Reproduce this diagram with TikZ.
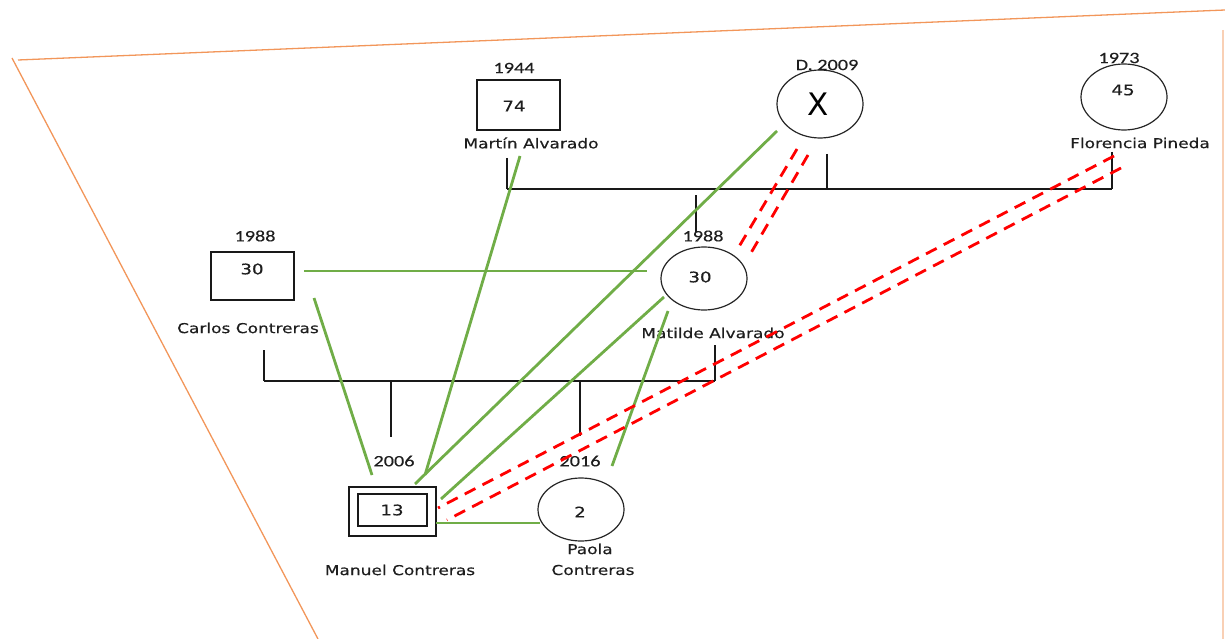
\documentclass[tikz,border=0pt]{standalone}
\usepackage{fontspec}
\usetikzlibrary{shapes.geometric}
\newfontfamily\nmfont[FakeStretch=1.25,FakeBold=0.35]{DejaVu Sans}
\newfontfamily\yrfont[FakeStretch=1.28,FakeBold=0.3]{Carlito}
\newfontfamily\bigxfont{DejaVu Sans}
\definecolor{orng}{RGB}{242,150,90}
\definecolor{grn}{RGB}{112,173,71}
\definecolor{txt}{RGB}{30,30,30}
\tikzset{
  nm/.style={inner sep=0pt, text=txt, font=\nmfont\fontsize{13.6}{15}\selectfont},
  yr/.style={inner sep=0pt, text=txt, font=\yrfont\fontsize{15.8}{17}\selectfont},
  age/.style={inner sep=0pt, text=txt, font=\nmfont\fontsize{14.6}{16}\selectfont},
  malebox/.style={draw=black!90, line width=1.3pt, rectangle, inner sep=0pt},
  femcirc/.style={draw=black!85, line width=1.2pt, ellipse, inner sep=0pt},
  kin/.style={black!90, line width=1.4pt},
  rel/.style={grn, line width=2.8pt},
  conflict/.style={red, line width=2.8pt, dash pattern=on 12pt off 8pt},
  frame/.style={orng, line width=1.3pt}
}
\begin{document}
\begin{tikzpicture}[x=1pt,y=-1pt]
\useasboundingbox (0,0) rectangle (1225,639);
% frame lines
\coordinate (fa) at (18,60);
\coordinate (fb) at (1225,10);
\coordinate (fc) at (12,58);
\coordinate (fd) at (318,639);
\coordinate (fe) at (1223,30);
\coordinate (ff) at (1223,639);
\draw[frame] (fa) -- (fb);
\draw[frame] (fc) -- (fd);
\draw[frame, opacity=0.45] (fe) -- (ff);

% Martin Alvarado
\node[malebox, minimum width=83pt, minimum height=50pt] (martin) at (518.5,105) {};
\node[age] (martinage) at (514,106) {74};
\node[yr] (martinyr) at (514,68) {1944};
\node[nm] (martinnm) at (531,143) {Martín Alvarado};

% deceased woman
\node[femcirc, minimum width=86pt, minimum height=68pt] (dec) at (820,104) {};
\node[inner sep=0pt, font=\bigxfont\fontsize{31}{32}\selectfont] (decx) at (818,104) {X};
\node[yr] (decyr) at (827,65) {D. 2009};

% Florencia Pineda
\node[femcirc, minimum width=86pt, minimum height=66pt] (flor) at (1124,97) {};
\node[age] (florage) at (1123,90) {45};
\node[yr] (floryr) at (1119,58) {1973};
\node[nm] (flornm) at (1140,143) {Florencia Pineda};

% Carlos Contreras
\node[malebox, minimum width=83pt, minimum height=48pt] (carlos) at (252.5,276) {};
\node[age] (carlosage) at (252,269) {30};
\node[yr] (carlosyr) at (255,236) {1988};
\node[nm] (carlosnm) at (248,328) {Carlos Contreras};

% Matilde Alvarado
\node[femcirc, minimum width=86pt, minimum height=63pt] (mat) at (704,278.5) {};
\node[age] (matage) at (700,277) {30};
\node[yr] (matyr) at (703,236) {1988};
\node[nm] (matnm) at (713,333) {Matilde Alvarado};

% Manuel Contreras
\node[malebox, minimum width=87pt, minimum height=49pt] (manuel) at (392.5,511.5) {};
\node[malebox, minimum width=69pt, minimum height=32pt] (manuelin) at (392.5,510) {};
\node[age] (manuelage) at (392,510) {13};
\node[yr] (manuelyr) at (394,461) {2006};
\node[nm] (manuelnm) at (400,570) {Manuel Contreras};

% Paola Contreras
\node[femcirc, minimum width=86pt, minimum height=63pt] (paola) at (581,509.5) {};
\node[age] (paolaage) at (580,512) {2};
\node[yr] (paolayr) at (580,461) {2016};
\node[nm] (paolanm1) at (590,549) {Paola};
\node[nm] (paolanm2) at (593,570) {Contreras};

% top family lines
\coordinate (t1) at (507,158);
\coordinate (t1b) at (507,189);
\coordinate (t2) at (827,154);
\coordinate (t2b) at (827,189);
\coordinate (t3) at (1112,152);
\coordinate (t3b) at (1112,189);
\coordinate (tc) at (696,195);
\coordinate (tcb) at (696,232);
\draw[kin] (t1) -- (t1b);
\draw[kin] (t2) -- (t2b);
\draw[kin] (t3) -- (t3b);
\draw[kin] (t1b) -- (t3b);
\draw[kin] (tc) -- (tcb);

% lower family lines
\coordinate (b1) at (264,350);
\coordinate (b1b) at (264,381);
\coordinate (b2) at (715,345);
\coordinate (b2b) at (715,381);
\coordinate (bc1) at (391,381);
\coordinate (bc1b) at (391,437);
\coordinate (bc2) at (580,381);
\coordinate (bc2b) at (580,436);
\draw[kin] (b1) -- (b1b);
\draw[kin] (b2) -- (b2b);
\draw[kin] (b1b) -- (b2b);
\draw[kin] (bc1) -- (bc1b);
\draw[kin] (bc2) -- (bc2b);

% green relations
\coordinate (g1a) at (304,271);  \coordinate (g1b) at (647,271);
\coordinate (g2a) at (314,298);  \coordinate (g2b) at (372,475);
\coordinate (g3a) at (520,156);  \coordinate (g3b) at (425,475);
\coordinate (g4a) at (777,131);  \coordinate (g4b) at (415,484);
\coordinate (g5a) at (664,297);  \coordinate (g5b) at (441,499);
\coordinate (g6a) at (668,311);  \coordinate (g6b) at (612,466);
\coordinate (g7a) at (436,523);  \coordinate (g7b) at (540,523);
\draw[rel] (g1a) -- (g1b);
\draw[rel] (g2a) -- (g2b);
\draw[rel] (g3a) -- (g3b);
\draw[rel] (g4a) -- (g4b);
\draw[rel] (g5a) -- (g5b);
\draw[rel] (g6a) -- (g6b);
\draw[rel] (g7a) -- (g7b);

% red conflict lines
\coordinate (r1a) at (797,149);  \coordinate (r1b) at (737,250);
\coordinate (r2a) at (808,155);  \coordinate (r2b) at (748,258);
\coordinate (r3a) at (1114,156); \coordinate (r3b) at (438,508);
\coordinate (r4a) at (1121,168); \coordinate (r4b) at (447,520);
\draw[conflict] (r1a) -- (r1b);
\draw[conflict] (r2a) -- (r2b);
\draw[conflict] (r3a) -- (r3b);
\draw[conflict] (r4a) -- (r4b);
\end{tikzpicture}
\end{document}
